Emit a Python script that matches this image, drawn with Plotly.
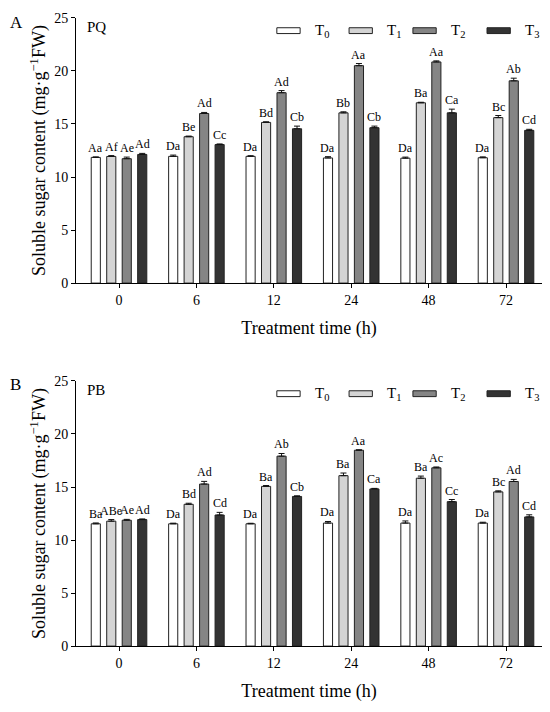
import plotly.graph_objects as go

times = ["0", "6", "12", "24", "48", "72"]
treatments = ["T<sub>0</sub>", "T<sub>1</sub>", "T<sub>2</sub>", "T<sub>3</sub>"]
bar_colors = ["#ffffff", "#d4d4d4", "#858585", "#333333"]

# PQ means (one list per treatment, one value per time point)
pq_t0 = [11.85, 11.95, 11.95, 11.80, 11.78, 11.82]
pq_t1 = [11.94, 13.80, 15.15, 16.05, 17.00, 15.60]
pq_t2 = [11.73, 15.99, 17.95, 20.50, 20.85, 19.07]
pq_t3 = [12.13, 13.06, 14.55, 14.65, 16.05, 14.40]
pq_err = [
    [0.05, 0.12, 0.06, 0.12, 0.10, 0.08],
    [0.08, 0.06, 0.06, 0.10, 0.05, 0.20],
    [0.15, 0.10, 0.20, 0.20, 0.10, 0.25],
    [0.10, 0.06, 0.25, 0.15, 0.35, 0.10],
]
pq_letters = [
    ["Aa", "Da", "Da", "Da", "Da", "Da"],
    ["Af", "Be", "Bd", "Bb", "Ba", "Bc"],
    ["Ae", "Ad", "Ad", "Aa", "Aa", "Ab"],
    ["Ad", "Cc", "Cb", "Cb", "Ca", "Cd"],
]

# PB means
pb_t0 = [11.53, 11.53, 11.53, 11.60, 11.60, 11.60]
pb_t1 = [11.78, 13.37, 15.06, 16.07, 15.83, 14.54]
pb_t2 = [11.87, 15.28, 17.91, 18.47, 16.81, 15.52]
pb_t3 = [11.93, 12.36, 14.11, 14.82, 13.62, 12.18]
pb_err = [
    [0.08, 0.06, 0.05, 0.15, 0.20, 0.08],
    [0.15, 0.10, 0.08, 0.25, 0.20, 0.10],
    [0.08, 0.25, 0.25, 0.04, 0.08, 0.20],
    [0.06, 0.25, 0.06, 0.05, 0.20, 0.20],
]
pb_letters = [
    ["Ba", "Da", "Da", "Da", "Da", "Da"],
    ["ABe", "Bd", "Ba", "Ba", "Ba", "Bc"],
    ["Ae", "Ad", "Ab", "Aa", "Ac", "Ad"],
    ["Ad", "Cd", "Cb", "Ca", "Cc", "Cd"],
]

panels = [
    ("A", "PQ", [pq_t0, pq_t1, pq_t2, pq_t3], pq_err, pq_letters),
    ("B", "PB", [pb_t0, pb_t1, pb_t2, pb_t3], pb_err, pb_letters),
]

FONT = "Liberation Serif"
BARGAP = 0.2
slot = (1 - BARGAP) / len(treatments)

# page body has an 8px margin, so the figure is a bit smaller than the window
W, H = 534, 696

fig = go.Figure()
annotations = []
shapes = []

for p, (tag, name, means, errs, letters) in enumerate(panels):
    sfx = "" if p == 0 else str(p + 1)
    xref, yref = "x" + sfx, "y" + sfx
    for j, tr in enumerate(treatments):
        fig.add_trace(go.Bar(
            x=times, y=means[j], xaxis=xref, yaxis=yref,
            name=tr, showlegend=False,
            marker=dict(color=bar_colors[j], line=dict(color="#222222", width=1)),
            error_y=dict(type="data", array=errs[j], arrayminus=[0] * len(times),
                         symmetric=False, color="#111111", thickness=1, width=3),
        ))
        # significance letters above the error bars
        for i in range(len(times)):
            annotations.append(dict(
                x=i + (j - 1.5) * slot, y=means[j][i] + errs[j][i],
                xref=xref, yref=yref, text=letters[j][i], showarrow=False,
                yanchor="bottom", yshift=0,
                font=dict(family=FONT, size=12, color="black"),
            ))

    # hand-made legend with flat swatches
    dx, dy = xref + " domain", yref + " domain"
    sw_x = [0.431, 0.586, 0.723, 0.882]
    for j, tr in enumerate(treatments):
        shapes.append(dict(type="rect", xref=dx, yref=dy,
                           x0=sw_x[j], x1=sw_x[j] + 0.05, y0=0.941, y1=0.963,
                           fillcolor=bar_colors[j], line=dict(color="#222222", width=1)))
        annotations.append(dict(x=sw_x[j] + 0.078, y=0.952, xref=dx, yref=dy,
                                text=tr, showarrow=False, xanchor="left", yanchor="middle",
                                font=dict(family=FONT, size=15, color="black")))

    annotations.append(dict(x=0.019, y=0.967, xref=dx, yref=dy, text=name,
                            showarrow=False, xanchor="left", yanchor="middle",
                            font=dict(family=FONT, size=15, color="black")))
    annotations.append(dict(x=0.0, y=[0.9885, 0.4569][p], xref="paper", yref="paper",
                            text=tag, showarrow=False, xanchor="left", yanchor="middle",
                            font=dict(family=FONT, size=17, color="black")))

xdom = [0.1273, 1.0]
ydoms = [[0.6063, 0.9957], [0.0733, 0.4626]]

axis_common = dict(showline=True, linecolor="black", linewidth=1, ticks="outside",
                   ticklen=4, tickcolor="black", showgrid=False, zeroline=False,
                   tickfont=dict(family=FONT, size=14, color="black"))

layout_axes = {}
for p in range(2):
    sfx = "" if p == 0 else str(p + 1)
    layout_axes["xaxis" + sfx] = dict(
        axis_common, domain=xdom, anchor="y" + sfx, type="category",
        range=[-0.556, 5.465],
        title=dict(text="Treatment time (h)", standoff=14,
                   font=dict(family=FONT, size=18, color="black")),
    )
    layout_axes["yaxis" + sfx] = dict(
        axis_common, domain=ydoms[p], anchor="x" + sfx, range=[0, 25],
        tickvals=[0, 5, 10, 15, 20, 25],
        title=dict(text="Soluble sugar content (mg·g<sup>−1</sup>FW)", standoff=3,
                   font=dict(family=FONT, size=18, color="black")),
    )

fig.update_layout(
    width=W, height=H,
    margin=dict(l=0, r=0, t=0, b=0),
    paper_bgcolor="white", plot_bgcolor="white",
    barmode="group", bargap=BARGAP, bargroupgap=0.41,
    font=dict(family=FONT, color="black"),
    annotations=annotations, shapes=shapes,
    **layout_axes,
)

fig.write_html("out.html")
